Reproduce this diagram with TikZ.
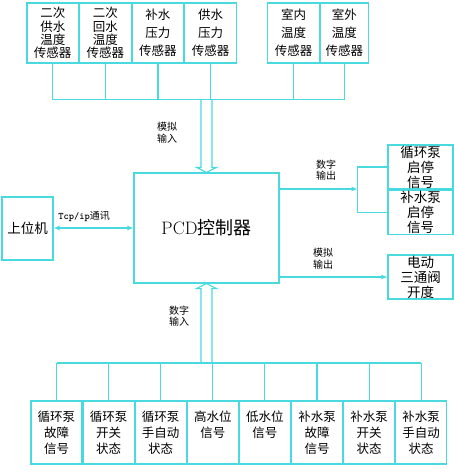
\documentclass[tikz,border=0pt]{standalone}
\usepackage{fontspec}
\newfontfamily\cjk{Noto Sans CJK SC}
\usetikzlibrary{arrows.meta,positioning,calc}
\definecolor{lnc}{RGB}{72,218,222}

\begin{document}
\begin{tikzpicture}[x=1pt,y=-1pt,node distance=0pt,
  every node/.style={inner sep=0pt},
  sens/.style={draw=lnc,line width=1.1pt,minimum width=51.5pt,minimum height=60pt,align=center,font=\cjk\fontsize{12.5}{13.3}\selectfont},
  sens3/.style={sens,font=\cjk\fontsize{12.5}{18}\selectfont},
  sig/.style={draw=lnc,line width=1.1pt,minimum width=51pt,minimum height=63pt,align=center,font=\cjk\fontsize{12.5}{16}\selectfont},
  outbox/.style={draw=lnc,line width=1.1pt,minimum width=65pt,minimum height=44pt,align=center,font=\cjk\fontsize{13.5}{15}\selectfont},
  lbl/.style={font=\cjk\fontsize{10}{11.5}\selectfont,align=center},
  wire/.style={draw=lnc,line width=1.1pt},
  arr/.style={wire,-{Latex[length=6pt,width=5pt]}},
  darr/.style={wire,{Latex[length=6pt,width=5pt]}-{Latex[length=6pt,width=5pt]}},
  fatarr/.style={wire,line join=miter}]
\useasboundingbox (0,0) rectangle (454,474);
% sensors on top
\node[sens] (t1) at (52.75,33) {二次\\供水\\温度\\传感器};
\node[sens,right=of t1] (t2) {二次\\回水\\温度\\传感器};
\node[sens3,right=of t2] (t3) {补水\\压力\\传感器};
\node[sens3,right=of t3] (t4) {供水\\压力\\传感器};
\node[sens3] (t5) at (293.5,33) {室内\\温度\\传感器};
\node[sens3,right=of t5,minimum width=48pt] (t6) {室外\\温度\\传感器};
\coordinate (tbus) at (0,99.5);
\foreach \n in {t1,t2,t3,t4,t5,t6}
  \draw[wire] (\n.south) -- (\n.south |- tbus);
\draw[wire] (t1.south |- tbus) -- (t6.south |- tbus);
% controller and host
\node[draw=lnc,line width=1.1pt,minimum width=145pt,minimum height=110pt,
  font=\cjk\fontsize{18}{20}\selectfont] (pcd) at (206.5,228) {{\rmfamily PCD}控制器};
\node[draw=lnc,line width=1.1pt,minimum width=51pt,minimum height=63pt,
  font=\cjk\fontsize{13.5}{15}\selectfont] (host) at (27.5,228.5) {上位机};
\draw[darr] (host.east |- pcd.west) -- (pcd.west);
\node[lbl] (tcp) at (84,216) {{\ttfamily\bfseries Tcp/ip}通讯};
% analog input, hollow arrow
\draw[fatarr] ($(pcd.north |- tbus)+(-5.5,0)$) -- ($(pcd.north)+(-5.5,-5)$)
  -- ($(pcd.north)+(-10,-5)$) -- (pcd.north) -- ($(pcd.north)+(10,-5)$)
  -- ($(pcd.north)+(5.5,-5)$) -- ($(pcd.north |- tbus)+(5.5,0)$);
\node[lbl] (ain) at (167,132.5) {模拟\\输入};
% outputs on the right
\node[outbox] (r1) at (420.5,167) {循环泵\\启停\\信号};
\node[outbox,below=of r1] (r2) {补水泵\\启停\\信号};
\node[outbox] (r3) at (420.5,277) {电动\\三通阀\\开度};
\coordinate (brk) at (357.5,189);
\draw[wire] (r1.west) -| (brk) |- (r2.west);
\draw[arr] (brk -| pcd.east) -- (brk);
\node[lbl] (dout) at (326,170) {数字\\输出};
\draw[arr] (r3.west -| pcd.east) -- (r3.west);
\node[lbl] (aout) at (323,258.5) {模拟\\输出};
% signals at the bottom
\node[sig] (b1) at (56.5,432.5) {循环泵\\故障\\信号};
\node[sig,right=of b1] (b2) {循环泵\\开关\\状态};
\node[sig,right=of b2] (b3) {循环泵\\手自动\\状态};
\node[sig,right=of b3] (b4) {高水位\\信号\\~};
\node[sig,right=of b4] (b5) {低水位\\信号\\~};
\node[sig,right=of b5] (b6) {补水泵\\故障\\信号};
\node[sig,right=of b6] (b7) {补水泵\\开关\\状态};
\node[sig,right=of b7] (b8) {补水泵\\手自动\\状态};
\coordinate (bbus) at (0,363);
\foreach \n in {b1,b2,b3,b4,b5,b6,b7,b8}
  \draw[wire] (\n.north) -- (\n.north |- bbus);
\draw[wire] (b1.north |- bbus) -- (b8.north |- bbus);
% digital input, hollow arrow
\draw[fatarr] ($(pcd.south |- bbus)+(-5.5,0)$) -- ($(pcd.south)+(-5.5,5)$)
  -- ($(pcd.south)+(-10,5)$) -- (pcd.south) -- ($(pcd.south)+(10,5)$)
  -- ($(pcd.south)+(5.5,5)$) -- ($(pcd.south |- bbus)+(5.5,0)$);
\node[lbl] (din) at (179,316) {数字\\输入};
\end{tikzpicture}
\end{document}
